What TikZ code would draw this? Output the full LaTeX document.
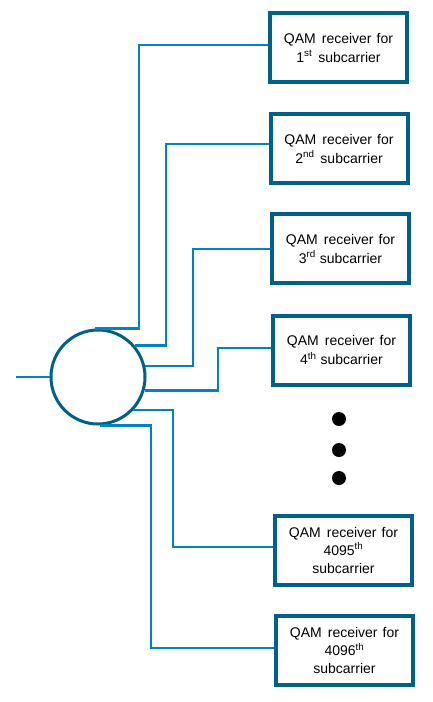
\documentclass[tikz,border=0pt]{standalone}
\usepackage{fontspec}
\setmainfont{Liberation Sans}
\definecolor{boxcol}{RGB}{0,96,135}
\definecolor{wirecol}{RGB}{0,132,190}
\newcommand\qamtxt{QAM\hspace{6pt}receiver\hspace{5pt}for}
\begin{document}
\begin{tikzpicture}[x=1pt,y=-1pt,
  rxbox/.style={draw=boxcol,line width=4pt,fill=white,minimum width=137pt,minimum height=69pt,inner sep=0pt,align=center,font=\fontsize{14}{19}\selectfont},
  rxbox3/.style={rxbox,font=\fontsize{14}{18}\selectfont},
  wire/.style={draw=wirecol,line width=2.7pt},
  dotnode/.style={circle,fill=black,minimum size=14pt,inner sep=0pt}]
\useasboundingbox (0,0) rectangle (433,702);

% splitter circle
\node[circle,draw=boxcol,line width=3pt,minimum size=94pt,inner sep=0pt] (c) at (98,377) {};

% receivers
\node[rxbox] (b1) at (338.5,47.5) {\qamtxt\\1\textsuperscript{st}\hspace{6pt}subcarrier};
\node[rxbox] (b2) at (339,148.5) {\qamtxt\\2\textsuperscript{nd}\hspace{6pt}subcarrier};
\node[rxbox] (b3) at (340.5,248.5) {\qamtxt\\3\textsuperscript{rd} subcarrier};
\node[rxbox] (b4) at (341.5,350) {\qamtxt\\4\textsuperscript{th} subcarrier};
\node[rxbox3] (b5) at (343.5,550) {\qamtxt\\4095\textsuperscript{th}\\subcarrier};
\node[rxbox3] (b6) at (344.5,650.5) {\qamtxt\\4096\textsuperscript{th}\\subcarrier};

% dots
\node[dotnode] (d1) at (339,419) {};
\node[dotnode] (d2) at (339,450) {};
\node[dotnode] (d3) at (339,478) {};

% input
\coordinate (in) at (16,377);
\draw[wire] (in) -- (c.west);

% wire corners
\coordinate (k1) at (139,45);
\coordinate (k2) at (166,144);
\coordinate (k3) at (193,249);
\coordinate (k4) at (218,348);
\coordinate (k5) at (173,547);
\coordinate (k6) at (151,648);

\draw[wire] (c.93) -| (k1) -- (b1.west |- k1);
\draw[wire] (c.41) -| (k2) -- (b2.west |- k2);
\draw[wire] (c.13.5) -| (k3) -- (b3.west |- k3);
\draw[wire] (c.-16) -| (k4) -- (b4.west |- k4);
\draw[wire] (c.-43) -| (k5) -- (b5.west |- k5);
\draw[wire] (c.-88) -| (k6) -- (b6.west |- k6);
\end{tikzpicture}
\end{document}
